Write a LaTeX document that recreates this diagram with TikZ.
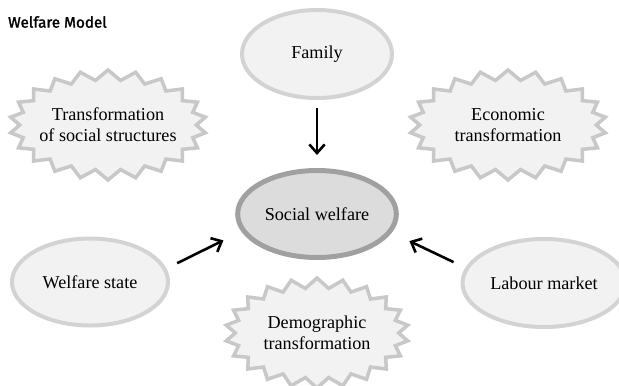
\documentclass[tikz,border=0pt]{standalone}
\usepackage{fontspec}
\setmainfont{Liberation Serif}
\newfontfamily\titlefont{Fira Sans}[FakeBold=1.6]
\usetikzlibrary{shapes.geometric,shapes.symbols,arrows.meta}
\definecolor{softfill}{HTML}{F2F2F2}
\definecolor{softline}{HTML}{D3D3D3}
\definecolor{burstline}{HTML}{C8C8C8}
\definecolor{corefill}{HTML}{DCDCDC}
\definecolor{coreline}{HTML}{A0A0A0}
\begin{document}
\begin{tikzpicture}[x=0.03cm,y=-0.03cm,
    every node/.style={align=center,font=\fontsize{15.5}{18}\selectfont},
    factor/.style={ellipse,fill=softfill,draw=softline,line width=3.4pt},
    burst/.style={starburst,starburst points=22,starburst point height=0.3cm,
      random starburst=0,fill=softfill,draw=burstline,line width=3pt,
      inner xsep=-0.35cm,minimum width=5.9cm,minimum height=3.3cm},
    push/.style={line width=2.2pt,-{Straight Barb[length=2.6mm,width=4.6mm]}}]
  \useasboundingbox (0,0) rectangle (619,385);
  \node[anchor=west,font=\titlefont\fontsize{13}{15}\selectfont] (title) at (4,22) {Welfare Model};
  \node[factor,minimum width=4.5cm,minimum height=2.64cm] (family) at (317,54) {Family};
  \node[ellipse,fill=corefill,draw=coreline,line width=4.25pt,
    minimum width=4.62cm,minimum height=2.61cm] (core) at (317,214) {Social welfare};
  \node[factor,minimum width=4.68cm,minimum height=2.61cm] (state) at (90,282) {Welfare state};
  \node[factor,minimum width=4.56cm,minimum height=2.64cm] (market) at (544,283) {Labour market};
  \node[burst] (social) at (108,125) {Transformation\\of social structures};
  \node[burst] (economic) at (508,125) {Economic\\transformation};
  \node[burst,minimum width=5.5cm] (demographic) at (317,333) {Demographic\\transformation};
  % arrows into the centre
  \draw[push,shorten <=0.24cm,shorten >=0.39cm] (family) -- (core);
  \draw[push,shorten <=0.36cm,shorten >=0.6cm] (state.10) -- (core.193);
  \draw[push,shorten <=0.39cm,shorten >=0.585cm] (market.169) -- (core.346);
\end{tikzpicture}
\end{document}
